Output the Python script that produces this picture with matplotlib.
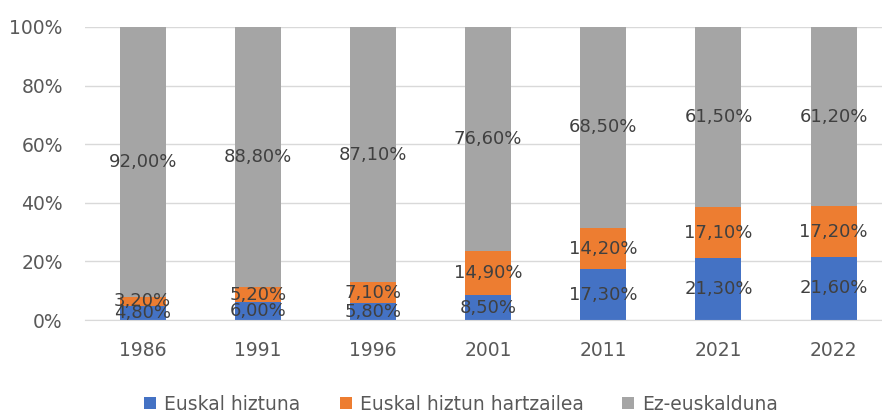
import matplotlib
matplotlib.use("Agg")
import matplotlib.pyplot as plt
import numpy as np

years = ["1986", "1991", "1996", "2001", "2011", "2021", "2022"]
euskal_hiztuna = [4.80, 6.00, 5.80, 8.50, 17.30, 21.30, 21.60]
hartzailea = [3.20, 5.20, 7.10, 14.90, 14.20, 17.10, 17.20]
ez_euskalduna = [92.00, 88.80, 87.10, 76.60, 68.50, 61.50, 61.20]
series_names = ["Euskal hiztuna", "Euskal hiztun hartzailea", "Ez-euskalduna"]
colors = ["#4472C4", "#ED7D31", "#A5A5A5"]

plt.rcParams['font.family'] = ['DejaVu Sans']

fig = plt.figure(figsize=(8.82, 4.12), dpi=100)
ax = fig.add_axes([85/882, 92/412, 797/882, 293/412])

x = np.arange(len(years))
width = 0.4
bottom = np.zeros(len(years))
handles = []
for vals, name, col in zip([euskal_hiztuna, hartzailea, ez_euskalduna], series_names, colors):
    vals = np.array(vals)
    b = ax.bar(x, vals, width, bottom=bottom, color=col, label=name, zorder=2)
    handles.append(b)
    for xi, v, bt in zip(x, vals, bottom):
        ax.text(xi, bt + v / 2, f"{v:.2f}%".replace(".", ","), ha="center", va="center",
                fontsize=13, color="#404040", zorder=3)
    bottom = bottom + vals

ax.set_xlim(-0.5, 6.42)
ax.set_ylim(0, 100)
ax.set_yticks(np.arange(0, 101, 20))
ax.set_yticklabels([f"{t}%" for t in range(0, 101, 20)])
ax.set_xticks(x)
ax.set_xticklabels(years)
ax.tick_params(axis="both", length=0, labelsize=13.5, colors="#595959")
ax.tick_params(axis="y", pad=16)
ax.tick_params(axis="x", pad=15)
ax.grid(axis="y", color="#D9D9D9", linewidth=1, zorder=0)
for s in ["top", "right", "left"]:
    ax.spines[s].set_visible(False)
ax.spines["bottom"].set_color("#D9D9D9")

fig.legend(handles=handles, labels=series_names, loc="lower center", ncol=3,
           bbox_to_anchor=(0.523, -0.045), frameon=False, fontsize=13.5,
           handlelength=0.64, handleheight=0.64, columnspacing=2.08, handletextpad=0.43,
           labelcolor="#595959")

fig.savefig("out.png", dpi=100)
